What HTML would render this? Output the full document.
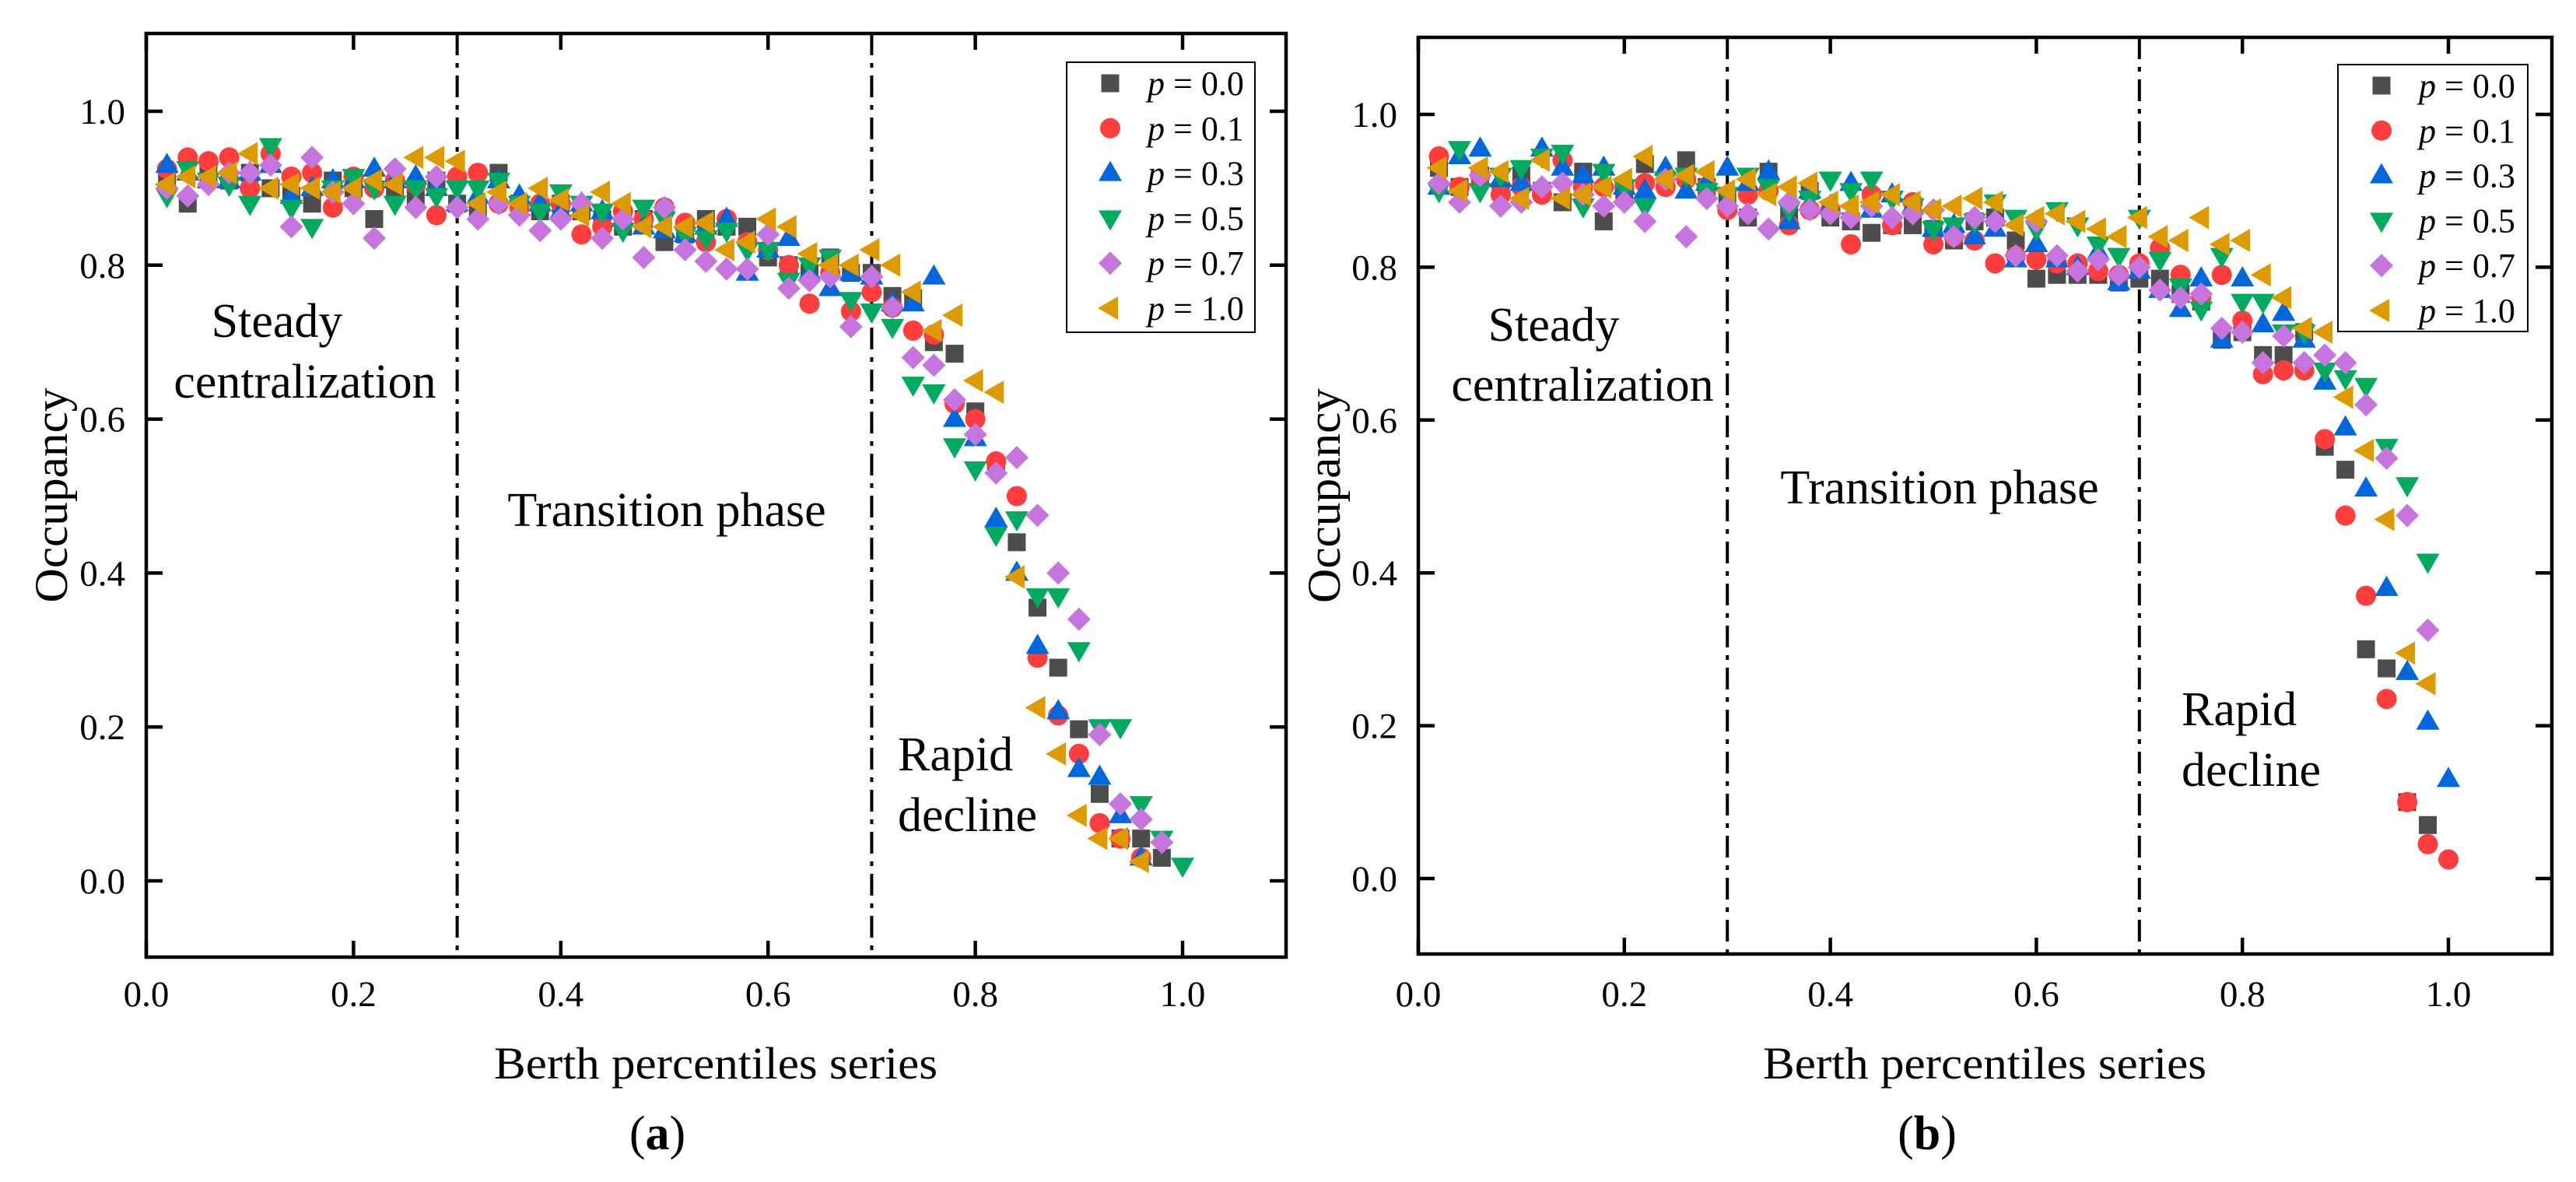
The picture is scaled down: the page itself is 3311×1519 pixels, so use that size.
<!DOCTYPE html>
<html><head><meta charset="utf-8"><style>
html,body{margin:0;padding:0;background:#fff;}
svg{display:block;font-family:"Liberation Serif",serif;}
</style></head><body>
<svg id="chart" width="3311" height="1519" viewBox="0 0 3311 1519" xmlns="http://www.w3.org/2000/svg"></svg>
<script>
const xTicks=[0.0,0.2,0.4,0.6,0.8,1.0];
const yTicks=[0.0,0.2,0.4,0.6,0.8,1.0];
const xCats=[];for(let i=1;i<=50;i++)xCats.push(+(i*0.02).toFixed(2));
const seriesLabels=["0.0","0.1","0.3","0.5","0.7","1.0"];
const phaseBounds=[0.3,0.7];
const aP00=[.91,.88,.92,.91,.92,.90,.89,.88,.91,.90,.86,.90,.89,.91,.88,.87,.92,.88,.87,.88,.87,.86,.85,.86,.83,.84,.86,.85,.85,.81,.80,.79,.81,.79,.79,.76,.757,.70,.685,.61,.54,.44,.355,.277,.197,.113,.055,.055,.03,null];
const aP01=[.925,.94,.935,.94,.90,.945,.915,.92,.875,.915,.90,.91,.905,.865,.915,.92,.88,.875,.88,.88,.84,.85,.87,.86,.875,.855,.83,.86,.83,.82,.80,.75,.79,.74,.765,.745,.715,.71,.62,.60,.545,.50,.29,.215,.165,.075,.055,.03,null,null];
const aP03=[.93,.92,.91,.91,.92,.93,.89,.90,.91,.91,.925,.91,.915,.90,.88,.89,.91,.89,.88,.87,.88,.87,.86,.85,.845,.84,.85,.86,.79,.82,.835,.79,.77,.79,.785,.75,.75,.785,.60,.575,.47,.40,.305,.22,.145,.135,.085,.03,null,null];
const aP05=[.89,.925,.91,.905,.88,.955,.875,.85,.90,.915,.90,.88,.90,.89,.90,.90,.91,.88,.87,.895,.88,.87,.845,.875,.86,.84,.835,.845,.82,.82,.78,.80,.81,.755,.74,.72,.645,.635,.565,.535,.45,.47,.37,.37,.30,.20,.20,.10,.055,.02];
const aP07=[.90,.89,.905,.92,.92,.93,.85,.94,.895,.88,.835,.925,.875,.915,.875,.86,.88,.865,.845,.86,.88,.835,.86,.81,.875,.82,.805,.795,.795,.84,.77,.78,.785,.72,.785,.745,.68,.67,.625,.58,.53,.55,.475,.40,.34,.19,.10,.08,.05,null];
const aP10=[.905,.915,.915,.92,.945,.90,.905,.90,.895,.90,.91,.905,.94,.94,.935,.88,.895,.88,.90,.885,.865,.895,.88,.85,.85,.85,.855,.82,.83,.86,.85,.815,.80,.80,.82,.80,.765,.715,.735,.65,.635,.395,.225,.165,.085,.055,.055,.025,null,null];
const bP00=[.93,.905,.92,.90,.92,.90,.885,.925,.86,.90,.935,.915,.94,.905,.89,.865,.925,.87,.90,.865,.86,.845,.855,.855,.85,.835,.86,.865,.835,.785,.79,.79,.79,.78,.785,.785,.765,.755,.705,.715,.685,.685,.715,.565,.535,.30,.275,.10,.07,null];
const bP01=[.945,.905,.92,.895,.905,.895,.94,.905,.905,.905,.91,.905,.915,.905,.875,.895,.90,.855,.875,.875,.83,.895,.855,.885,.83,.84,.835,.805,.815,.81,.805,.805,.795,.79,.805,.825,.79,.76,.79,.73,.66,.665,.665,.575,.475,.37,.235,.10,.045,.025];
const bP03=[.905,.945,.955,.915,.91,.955,.93,.92,.93,.905,.90,.93,.90,.91,.93,.91,.925,.86,.90,.88,.91,.875,.895,.88,.85,.855,.84,.85,.81,.83,.81,.80,.82,.78,.795,.77,.745,.785,.705,.785,.725,.74,.705,.65,.59,.51,.38,.27,.205,.13];
const bP05=[.90,.955,.90,.92,.93,.945,.95,.88,.925,.905,.88,.915,.92,.90,.895,.92,.905,.875,.89,.915,.90,.915,.89,.88,.85,.855,.86,.885,.865,.85,.875,.855,.83,.815,.865,.81,.775,.745,.815,.755,.755,.715,.715,.665,.655,.645,.565,.515,.415,null];
const bP07=[.91,.885,.92,.88,.885,.905,.91,.895,.88,.885,.86,.915,.84,.89,.88,.87,.85,.885,.875,.87,.865,.88,.865,.87,.875,.84,.865,.86,.815,.86,.815,.795,.81,.79,.80,.77,.76,.765,.72,.715,.675,.71,.675,.685,.675,.62,.55,.475,.325,null];
const bP10=[.93,.90,.93,.925,.89,.94,.89,.895,.905,.915,.945,.915,.92,.925,.90,.915,.895,.905,.91,.885,.88,.885,.895,.885,.875,.88,.89,.885,.855,.865,.87,.86,.85,.84,.865,.84,.835,.865,.83,.835,.79,.76,.72,.715,.63,.56,.47,.295,.255,null];

const NS="http://www.w3.org/2000/svg";
const svg=document.getElementById('chart');
function mk(tag,attrs,parent){const e=document.createElementNS(NS,tag);for(const k in attrs)e.setAttribute(k,attrs[k]);(parent||svg).appendChild(e);return e;}
const colors=["#4d4d4d","#ff3d3d","#0068dc","#00aa5f","#c674de","#dd9b00"];
const shapes=["square","circle","up","down","diamond","left"];
function marker(g,shape,cx,cy,color){
  let e;
  if(shape==="square"){e=mk('rect',{x:cx-11.5,y:cy-11.5,width:23,height:23,fill:color},g);}
  else if(shape==="circle"){e=mk('circle',{cx:cx,cy:cy,r:13,fill:color},g);}
  else{let p;
    if(shape==="up")p=[[cx,cy-16],[cx+15,cy+10],[cx-15,cy+10]];
    else if(shape==="down")p=[[cx,cy+16],[cx+15,cy-10],[cx-15,cy-10]];
    else if(shape==="diamond")p=[[cx,cy-15],[cx+15,cy],[cx,cy+15],[cx-15,cy]];
    else p=[[cx-16,cy],[cx+10,cy-15],[cx+10,cy+15]];
    e=mk('polygon',{points:p.map(q=>q.join(',')).join(' '),fill:color},g);}
  return e;
}
function panel(cfg){
  const {L,R,T,B,x0,x1,y0,y1,data,id}=cfg;
  const X=v=>x0+(x1-x0)*v, Y=v=>y0+(y1-y0)*v;
  const g=mk('g',{});
  
  
  phaseBounds.forEach((b,i)=>{const l=mk('line',{x1:X(b),x2:X(b),y1:T,y2:B,stroke:'#000','stroke-width':4,'stroke-dasharray':'28 10 6 10'},g);
    });
  data.forEach((arr,si)=>{const sg=mk('g',{},g);
    
    arr.forEach((v,i)=>{if(v===null)return;const m=marker(sg,shapes[si],X(xCats[i]),Y(v),colors[si]);
      });});
  const f=mk('rect',{x:L,y:T,width:R-L,height:B-T,fill:'none',stroke:'#000','stroke-width':4.5},g);
  
  xTicks.forEach(t=>{const x=X(t);
    mk('line',{x1:x,x2:x,y1:B,y2:B-21,stroke:'#000','stroke-width':4.5},g);
    mk('line',{x1:x,x2:x,y1:T,y2:T+21,stroke:'#000','stroke-width':4.5},g);
    const tx=mk('text',{x:x,y:1293,'font-size':47,'text-anchor':'middle'},g);tx.textContent=t.toFixed(1);
    });
  yTicks.forEach(t=>{const y=Y(t);
    mk('line',{x1:L,x2:L+21,y1:y,y2:y,stroke:'#000','stroke-width':4.5},g);
    mk('line',{x1:R,x2:R-21,y1:y,y2:y,stroke:'#000','stroke-width':4.5},g);
    const tx=mk('text',{x:L-27,y:y+16,'font-size':47,'text-anchor':'end'},g);tx.textContent=t.toFixed(1);
    });
  const yt=mk('text',{x:0,y:0,'font-size':60,'text-anchor':'middle',textLength:276,lengthAdjust:'spacingAndGlyphs',transform:`translate(${cfg.ytx},${(T+B)/2}) rotate(-90)`},g);yt.textContent='Occupancy';
  
  const xt=mk('text',{x:cfg.xtx,y:1386,'font-size':58,'text-anchor':'middle',textLength:570,lengthAdjust:'spacingAndGlyphs'},g);xt.textContent='Berth percentiles series';
  
  const lab=mk('text',{x:cfg.labx,y:1477,'font-size':62,'text-anchor':'middle'},g);
  lab.innerHTML='(<tspan font-weight="bold">'+id+'</tspan>)';
  
  cfg.notes.forEach(n=>{const t=mk('text',{x:n[0],y:n[1],'font-size':62,'text-anchor':n[3]||'middle'},g);t.textContent=n[2];
    });
  const lg=mk('g',{},g);
  mk('rect',{x:cfg.lg[0],y:cfg.lg[1],width:cfg.lg[2],height:cfg.lg[3],fill:'#fff',stroke:'#000','stroke-width':2},lg);
  seriesLabels.forEach((s,i)=>{const cy=cfg.lg[1]+27+i*57.8;
    const e=mk('g',{},lg);
    marker(e,shapes[i],cfg.lg[0]+56,cy,colors[i]);
    const t=mk('text',{x:cfg.lg[0]+104,y:cy+15,'font-size':44},e);
    t.innerHTML='<tspan font-style="italic">p</tspan> = '+s;});
}
panel({id:'a',L:188,R:1653,T:43,B:1230,x0:188,x1:1520,y0:1132,y1:143,
  data:[aP00,aP01,aP03,aP05,aP07,aP10],ytx:86,xtx:920,labx:845,
  notes:[[356,433,'Steady'],[392,511,'centralization'],[857,676,'Transition phase'],[1154,990,'Rapid','start'],[1154,1068,'decline','start']],
  lg:[1371,80,242,347]});
panel({id:'b',L:1823,R:3280,T:48,B:1226,x0:1823,x1:3147,y0:1129,y1:147,
  data:[bP00,bP01,bP03,bP05,bP07,bP10],ytx:1722,xtx:2551,labx:2477,
  notes:[[1997,438,'Steady'],[2034,515,'centralization'],[2493,647,'Transition phase'],[2804,932,'Rapid','start'],[2804,1010,'decline','start']],
  lg:[3005,83,244,343]});
</script>
</body></html>
